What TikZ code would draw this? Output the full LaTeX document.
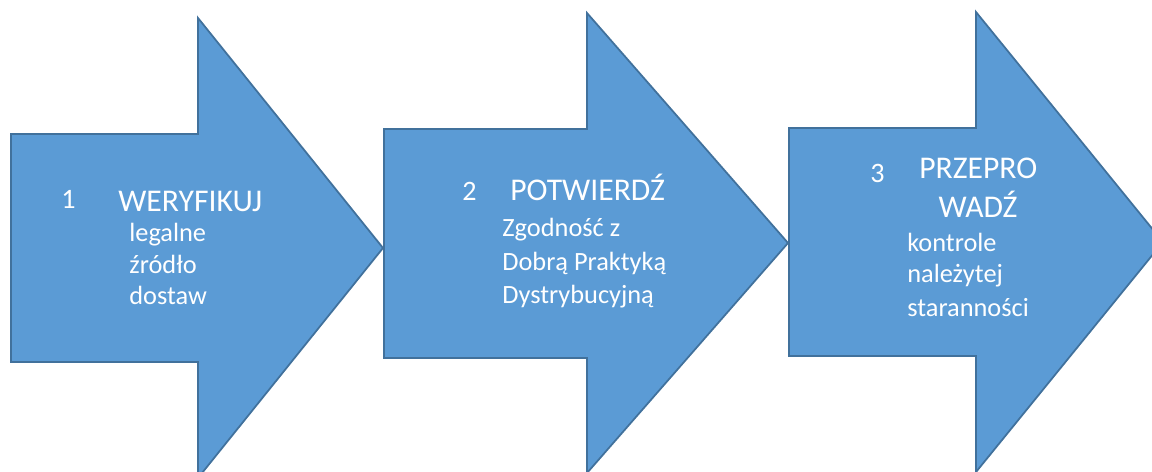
\documentclass[tikz,border=0pt]{standalone}
\usepackage{fontspec}
\setmainfont{Carlito}
\usetikzlibrary{positioning}
\definecolor{arrowfill}{HTML}{5B9BD5}
\definecolor{arrowline}{HTML}{41719C}
\tikzset{
  bigarrow/.style={fill=arrowfill,draw=arrowline,line width=1pt,line join=miter},
  numtext/.style={anchor=base west,inner sep=0pt,text=white,font=\fontsize{16}{18}\selectfont},
  headtext/.style={anchor=base west,inner sep=0pt,text=white,font=\fontsize{18}{22}\selectfont},
  bodytext/.style={anchor=base west,inner sep=0pt,text=white,font=\fontsize{15}{18}\selectfont}
}
\begin{document}
\begin{tikzpicture}[x=0.02cm,y=-0.02cm]
  \useasboundingbox (0,0) rectangle (1152,472);
  \clip (0,0) rectangle (1152,472);
  % krok 1
  \draw[bigarrow] (11,134) -- (198,134) -- (198,18) -- (383,248) -- (198,478)
    -- (198,362) -- (11,362) -- cycle;
  \node[numtext] (n1) at (61,209) {1};
  \node[headtext] (h1) at (118,212) {WERYFIKUJ};
  \node[bodytext] (b1a) at (129,242) {legalne};
  \node[bodytext] (b1b) at (129,274) {źródło};
  \node[bodytext] (b1c) at (129,305) {dostaw};
  % krok 2
  \draw[bigarrow] (384,129) -- (587,129) -- (587,13) -- (788,243) -- (587,473)
    -- (587,358) -- (384,358) -- cycle;
  \node[numtext] (n2) at (462,201) {2};
  \node[headtext] (h2) at (510,201) {POTWIERDŹ};
  \node[bodytext] (b2a) at (502,237) {Zgodność z};
  \node[bodytext] (b2b) at (502,271) {Dobrą Praktyką};
  \node[bodytext] (b2c) at (502,304) {Dystrybucyjną};
  % krok 3
  \draw[bigarrow] (789,128) -- (976,128) -- (976,12) -- (1163,242) -- (976,472)
    -- (976,356) -- (789,356) -- cycle;
  \node[numtext] (n3) at (870,183) {3};
  \node[headtext] (h3a) at (919,179) {PRZEPRO};
  \node[headtext,anchor=base] (h3b) at (978,218) {WADŹ};
  \node[bodytext] (b3a) at (907,252) {kontrole};
  \node[bodytext] (b3b) at (907,283) {należytej};
  \node[bodytext] (b3c) at (907,317) {staranności};
\end{tikzpicture}
\end{document}
